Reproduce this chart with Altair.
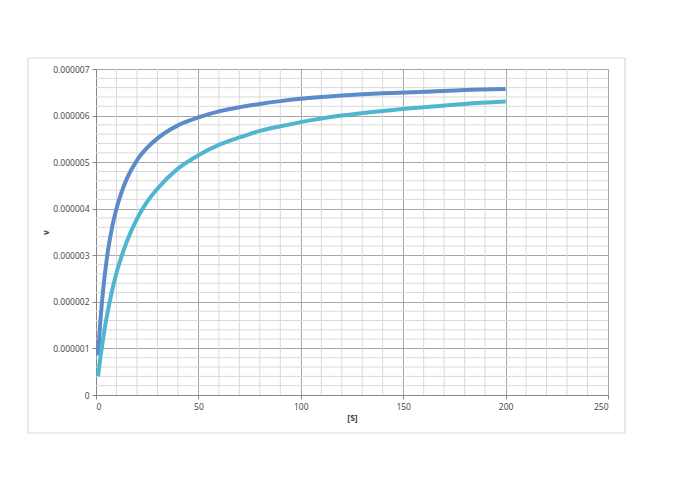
import altair as alt
import pandas as pd

# Substrate concentration [S]
s_values = [1, 2, 3, 4, 5, 6, 8, 10, 12, 15, 20, 25, 30, 40, 50, 60, 70, 80, 90, 100, 120, 140, 160, 180, 200]
# Rate v (x 1e-6) – uninhibited curve
v_series1 = [0.85, 1.51, 2.04, 2.47, 2.83, 3.14, 3.63, 4.00, 4.29, 4.64, 5.04, 5.31, 5.51, 5.79, 5.96,
             6.09, 6.18, 6.25, 6.31, 6.36, 6.43, 6.48, 6.51, 6.55, 6.57]
# Rate v (x 1e-6) – second curve
v_series2 = [0.40, 0.76, 1.07, 1.36, 1.62, 1.85, 2.27, 2.62, 2.91, 3.29, 3.78, 4.15, 4.43, 4.86, 5.15,
             5.37, 5.53, 5.67, 5.77, 5.86, 6.00, 6.10, 6.18, 6.25, 6.30]
series_names = ["Series1", "Series2"]
series_colors = ["#5b8cc9", "#4fb6d0"]

x_major = [0, 50, 100, 150, 200, 250]
y_major = [0, 0.000001, 0.000002, 0.000003, 0.000004, 0.000005, 0.000006, 0.000007]
x_minor = [v for v in range(0, 251, 10) if v % 50 != 0]
y_minor = [round(i * 0.0000002, 8) for i in range(36) if i % 5 != 0]

rows = []
for name, vals in zip(series_names, [v_series1, v_series2]):
    for s, v in zip(s_values, vals):
        rows.append({"S": s, "v": v * 1e-6, "series": name})
df = pd.DataFrame(rows)

xscale = alt.Scale(domain=[0, 250], nice=False, zero=True)
yscale = alt.Scale(domain=[0, 0.000007], nice=False)

common = dict(grid=True, gridColor="#a6a6a6", gridWidth=1,
              domainColor="#868686", tickColor="#868686", tickSize=4,
              labelFont="Open Sans", labelFontSize=8.5, labelColor="#404040",
              titleFont="Open Sans", titleFontSize=8.5, titleFontWeight="bold",
              titleColor="#404040", labelPadding=3)
xaxis = alt.Axis(values=x_major, titlePadding=3, **common)
yaxis = alt.Axis(values=y_major, titlePadding=2,
                 labelExpr="datum.value == 0 ? '0' : format(datum.value, '.6f')", **common)

frame = alt.Chart(pd.DataFrame({"a": [0]})).mark_rect(
    fillOpacity=0, stroke="#d9d9d9", strokeWidth=1.2, clip=False
).encode(
    x=alt.value(-68), x2=alt.value(529), y=alt.value(-11), y2=alt.value(364)
)

xminor = alt.Chart(pd.DataFrame({"x": x_minor})).mark_rule(
    color="#d9d9d9", strokeWidth=1
).encode(x=alt.X("x:Q", scale=xscale, axis=xaxis, title="[S]"))

yminor = alt.Chart(pd.DataFrame({"y": y_minor})).mark_rule(
    color="#d9d9d9", strokeWidth=1
).encode(y=alt.Y("y:Q", scale=yscale, axis=yaxis, title="v"))

lines = alt.Chart(df).mark_line(strokeWidth=4, interpolate="monotone").encode(
    x=alt.X("S:Q", scale=xscale, title="[S]", axis=xaxis),
    y=alt.Y("v:Q", scale=yscale, title="v", axis=yaxis),
    color=alt.Color("series:N", scale=alt.Scale(domain=series_names, range=series_colors), legend=None),
)

chart = alt.layer(frame, xminor, yminor, lines).properties(
    width=512, height=326,
    autosize=alt.AutoSizeParams(type="none"),
    padding={"left": 88, "top": 61, "right": 80, "bottom": 80},
).configure_view(stroke="#a6a6a6", strokeWidth=1).configure(background="white")

chart.save("out.html", embed_options={"renderer": "svg", "actions": False})
